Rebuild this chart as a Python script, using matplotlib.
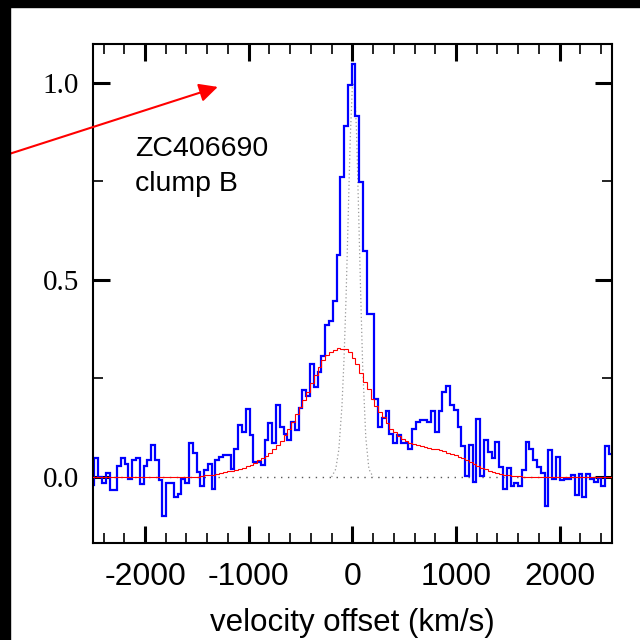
import numpy as np
import matplotlib
matplotlib.use("Agg")
import matplotlib.pyplot as plt
from matplotlib.ticker import MultipleLocator
from matplotlib.patches import Rectangle

plt.rcParams["axes.unicode_minus"] = False

# ---- data ----
bin_start = -2525.0      # km/s, left edge of first spectral bin
bin_width = 36.5         # km/s per spectral bin

flux = [
    -0.021, 0.047, 0.000, -0.015, 0.010, -0.032, -0.032, 0.027, 0.049, 0.034,
    -0.004, 0.044, 0.047, -0.019, 0.027, 0.042, 0.080, 0.042, -0.007, -0.100,
    -0.015, -0.015, -0.051, -0.044, -0.004, -0.015, 0.087, 0.061, 0.013, -0.024,
    0.017, 0.034, -0.030, 0.044, 0.051, 0.055, 0.055, 0.019, 0.072, 0.131,
    0.114, 0.173, 0.106, 0.038, 0.038, 0.030, 0.093, 0.137, 0.085, 0.182,
    0.127, 0.110, 0.093, 0.140, 0.118, 0.176, 0.220, 0.205, 0.288, 0.228,
    0.266, 0.308, 0.385, 0.396, 0.447, 0.564, 0.761, 0.891, 0.994, 1.047,
    0.915, 0.749, 0.573, 0.413, 0.413, 0.199, 0.127, 0.150, 0.167, 0.110,
    0.085, 0.107, 0.085, 0.085, 0.072, 0.123, 0.140, 0.144, 0.144, 0.140,
    0.168, 0.115, 0.168, 0.216, 0.232, 0.182, 0.171, 0.127, 0.078, 0.002,
    0.080, -0.013, 0.148, 0.002, 0.093, 0.063, 0.047, 0.089, 0.025, -0.030,
    0.024, -0.023, -0.015, -0.024, 0.017, 0.089, 0.070, 0.042, 0.025, 0.010,
    -0.074, 0.068, -0.004, 0.051, -0.007, -0.004, -0.004, 0.004, -0.047, 0.008,
    -0.051, 0.008, -0.004, -0.013, -0.002, -0.024, 0.078, 0.059,
]

model = [0.0] * 28 + [
    0.001, 0.002, 0.004, 0.005, 0.006, 0.008, 0.010, 0.012, 0.014, 0.015,
    0.017, 0.019, 0.023, 0.027, 0.031, 0.036, 0.042, 0.047, 0.052, 0.062,
    0.071, 0.081, 0.092, 0.107, 0.121, 0.139, 0.159, 0.177, 0.195, 0.216,
    0.238, 0.260, 0.280, 0.297, 0.310, 0.318, 0.323, 0.327, 0.326, 0.324,
    0.318, 0.303, 0.287, 0.264, 0.242, 0.224, 0.197, 0.179, 0.165, 0.152,
    0.136, 0.123, 0.113, 0.104, 0.097, 0.091, 0.087, 0.083, 0.080, 0.078,
    0.076, 0.074, 0.072, 0.071, 0.068, 0.065, 0.062, 0.059, 0.055, 0.051,
    0.047, 0.042, 0.037, 0.032, 0.027, 0.023, 0.019, 0.015, 0.012, 0.009,
    0.007, 0.005, 0.004, 0.003, 0.002, 0.002, 0.001, 0.001,
] + [0.0] * 22

narrow_v = [-200, -160, -130, -100, -80, -60, -40, -20, 0, 20, 40, 60, 80, 100, 130, 160, 200]
narrow_f = [0.00, 0.02, 0.07, 0.18, 0.30, 0.46, 0.66, 0.86, 0.99, 1.00, 0.88, 0.68, 0.47, 0.28, 0.10, 0.02, 0.00]

x_ticks = [-2000, -1000, 0, 1000, 2000]
y_ticks = [0.0, 0.5, 1.0]
label_text = "ZC406690\nclump B"
x_label = "velocity offset (km/s)"

arrow_tail = (-3403, 0.812)
arrow_head = (-1298, 0.990)

# ---- figure ----
edges = bin_start + bin_width * np.arange(len(flux) + 1)

fig = plt.figure(figsize=(6.4, 6.4), dpi=100)
fig.patch.set_facecolor("white")
ax = fig.add_axes([0.1453, 0.1516, 0.8109, 0.7797])

ax.axhline(0, color="0.35", lw=1.0, ls=(0, (1, 4)), zorder=1)
ax.plot(narrow_v, narrow_f, color="0.6", lw=0.9, ls=(0, (1, 2)), zorder=1)
ax.stairs(flux, edges, baseline=None, color="blue", lw=1.6, zorder=2)
ax.stairs(model, edges, baseline=None, color="red", lw=0.8, zorder=3)

ax.set_xlim(-2502, 2505)
ax.set_ylim(-0.1675, 1.099)

ax.set_xticks(x_ticks, labels=[str(t) for t in x_ticks])
ax.set_yticks(y_ticks, labels=[f"{t:.1f}" for t in y_ticks])
ax.xaxis.set_minor_locator(MultipleLocator(200))
ax.yaxis.set_minor_locator(MultipleLocator(0.25))

ax.tick_params(which="major", direction="in", length=12, width=2.2,
               top=True, right=True, color="black")
ax.tick_params(which="minor", direction="in", length=7, width=1.2,
               top=True, right=True, color="black")
ax.tick_params(axis="x", which="major", pad=14, labelsize=23)
ax.tick_params(axis="y", which="major", pad=10, labelsize=21)
for lab in ax.get_xticklabels():
    lab.set_fontfamily("Liberation Sans")
for lab in ax.get_yticklabels():
    lab.set_fontfamily("Liberation Serif")

for sp in ax.spines.values():
    sp.set_linewidth(1.5)

ax.set_xlabel(x_label, fontsize=22.5, family="Liberation Sans", labelpad=11)

ax.text(-2100, 0.866, label_text, fontsize=20.5, family="Liberation Sans",
        ha="left", va="top", linespacing=1.45)

ax.annotate("", xy=arrow_head, xytext=arrow_tail, xycoords="data",
            textcoords="data", annotation_clip=False,
            arrowprops=dict(arrowstyle="-|>,head_length=0.4,head_width=0.2",
                            color="red", lw=1.5, mutation_scale=28,
                            shrinkA=0, shrinkB=0))

# dark frame strips at the top and left edges of the picture
fig.add_artist(Rectangle((0, 1 - 7 / 640), 1, 7 / 640, transform=fig.transFigure,
                         color="black", zorder=10))
fig.add_artist(Rectangle((0, 0), 10 / 640, 1, transform=fig.transFigure,
                         color="black", zorder=10))

fig.savefig("out.png", dpi=100)
